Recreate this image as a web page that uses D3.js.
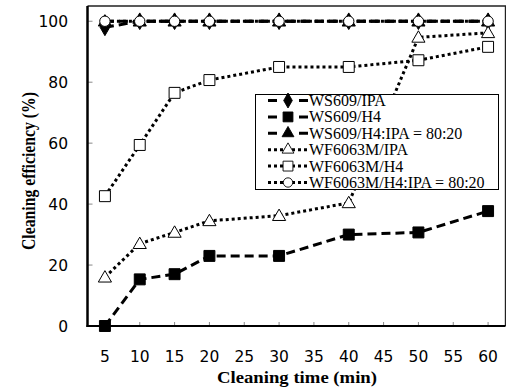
<!DOCTYPE html>
<html>
<head>
<meta charset="utf-8">
<script src="https://cdn.jsdelivr.net/npm/d3@7"></script>
<style>
  body { margin: 0; background: #fff; }
  svg { display: block; }
</style>
</head>
<body>
<div id="chart"></div>
<script>
// cleaning time (min)
var times = [5, 10, 15, 20, 30, 40, 50, 60];
var xTicks = [5, 10, 15, 20, 25, 30, 35, 40, 45, 50, 55, 60];
var yTicks = [0, 20, 40, 60, 80, 100];

var seriesNames = ['WS609/IPA', 'WS609/H4', 'WS609/H4:IPA = 80:20',
  'WF6063M/IPA', 'WF6063M/H4', 'WF6063M/H4:IPA = 80:20'];

var ws609Ipa   = [98, 100, 100, 100, 100, 100, 100, 100];
var ws609H4    = [0, 15.3, 17, 23, 23, 30, 30.7, 37.7];
var ws609Mix   = [100, 100, 100, 100, 100, 100, 100, 100];
var wf6063Ipa  = [16, 27, 30.7, 34.5, 36.2, 40.4, 94.7, 96.2];
var wf6063H4   = [42.6, 59.4, 76.5, 80.7, 85, 85, 87.2, 91.6];
var wf6063Mix  = [100, 100, 100, 100, 100, 100, 100, 100];

var allValues = [ws609Ipa, ws609H4, ws609Mix, wf6063Ipa, wf6063H4, wf6063Mix];
var symbols = ['diamond', 'square', 'triangle', 'triangle', 'square', 'circle'];
var filled = [true, true, true, false, false, false];
var dashed = [true, true, true, false, false, false];

var W = 506, H = 387;
var pl = 87.5, pr = 505.5, pt = 6, pb = 326;

var svg = d3.select('#chart').append('svg')
  .attr('width', W).attr('height', H);

var x = d3.scaleLinear().domain([2.5, 62.5]).range([pl, pr]);
var y = d3.scaleLinear().domain([0, 105]).range([pb, pt]);

// frame top/right
svg.append('path')
  .attr('d', 'M' + pl + ',' + pt + 'H' + pr + 'V' + pb)
  .attr('fill', 'none').attr('stroke', '#222').attr('stroke-width', 1.4);

// inner ticks
svg.selectAll('.xt').data(xTicks).enter().append('line')
  .attr('x1', function(d){ return x(d); }).attr('x2', function(d){ return x(d); })
  .attr('y1', pb).attr('y2', pb - 4)
  .attr('stroke', '#888').attr('stroke-width', 1);
svg.selectAll('.yt').data(yTicks).enter().append('line')
  .attr('x1', pl).attr('x2', pl + 5)
  .attr('y1', function(d){ return y(d); }).attr('y2', function(d){ return y(d); })
  .attr('stroke', '#888').attr('stroke-width', 1);

// axis lines
svg.append('line').attr('x1', pl).attr('x2', pl).attr('y1', pt).attr('y2', pb + 1)
  .attr('stroke', '#000').attr('stroke-width', 2.5);
svg.append('line').attr('x1', pl - 1).attr('x2', pr).attr('y1', pb).attr('y2', pb)
  .attr('stroke', '#000').attr('stroke-width', 2);

// tick labels
svg.selectAll('.xl').data(xTicks).enter().append('text')
  .attr('x', function(d){ return x(d); }).attr('y', 362)
  .attr('text-anchor', 'middle')
  .style('font-family', 'DejaVu Sans').style('font-size', '15.5px')
  .text(function(d){ return d; });
svg.selectAll('.yl').data(yTicks).enter().append('text')
  .attr('x', 68).attr('y', function(d){ return y(d) + 5.5; })
  .attr('text-anchor', 'end')
  .style('font-family', 'DejaVu Sans').style('font-size', '15.5px')
  .text(function(d){ return d; });

// axis titles
svg.append('text').attr('x', 297).attr('y', 383)
  .attr('text-anchor', 'middle')
  .attr('textLength', 160).attr('lengthAdjust', 'spacingAndGlyphs')
  .style('font-family', 'Liberation Serif').style('font-weight', 'bold').style('font-size', '17.5px')
  .text('Cleaning time (min)');
svg.append('text').attr('transform', 'translate(35,171) rotate(-90)')
  .attr('text-anchor', 'middle')
  .attr('textLength', 158).attr('lengthAdjust', 'spacingAndGlyphs')
  .style('font-family', 'Liberation Serif').style('font-weight', 'bold').style('font-size', '18px')
  .text('Cleaning efficiency (%)');

function symPath(name) {
  var t = { diamond: d3.symbolDiamond, square: d3.symbolSquare,
    triangle: d3.symbolTriangle, circle: d3.symbolCircle }[name];
  var size = { diamond: 80, square: 120, triangle: 75, circle: 85 }[name];
  return d3.symbol().type(t).size(size)();
}

var line = d3.line()
  .x(function(d){ return x(d[0]); })
  .y(function(d){ return y(d[1]); });

allValues.forEach(function(vals, i) {
  var pts = times.map(function(t, j){ return [t, vals[j]]; });
  svg.append('path').datum(pts)
    .attr('d', line)
    .attr('fill', 'none').attr('stroke', '#000')
    .attr('stroke-width', 3)
    .attr('stroke-dasharray', dashed[i] ? '9,5' : '3,3');
});
allValues.forEach(function(vals, i) {
  var pts = times.map(function(t, j){ return [t, vals[j]]; });
  svg.selectAll('.m' + i).data(pts).enter().append('path')
    .attr('d', symPath(symbols[i]))
    .attr('transform', function(d){
      var dy = symbols[i] === 'triangle' ? 1 : 0;
      return 'translate(' + x(d[0]) + ',' + (y(d[1]) + dy) + ')';
    })
    .attr('fill', filled[i] ? '#000' : '#fff')
    .attr('stroke', '#000').attr('stroke-width', 1);
});

// legend
var lg = svg.append('g');
lg.append('rect').attr('x', 255.5).attr('y', 94.5).attr('width', 243).attr('height', 95)
  .attr('fill', '#fff').attr('stroke', '#000').attr('stroke-width', 1);
seriesNames.forEach(function(name, i) {
  var ry = 100.5 + i * 16.4;
  lg.append('line').attr('x1', 268).attr('x2', 308).attr('y1', ry).attr('y2', ry)
    .attr('stroke', '#000').attr('stroke-width', 3)
    .attr('stroke-dasharray', dashed[i] ? '9,22,9' : '3,3');
  lg.append('path').attr('d', symPath(symbols[i]))
    .attr('transform', 'translate(288,' + ry + ') scale(0.9)')
    .attr('fill', filled[i] ? '#000' : '#fff')
    .attr('stroke', '#000').attr('stroke-width', 1);
  lg.append('text').attr('x', 309).attr('y', ry + 5.5)
    .style('font-family', 'Liberation Serif').style('font-size', '16px')
    .text(name);
});
</script>
</body>
</html>
